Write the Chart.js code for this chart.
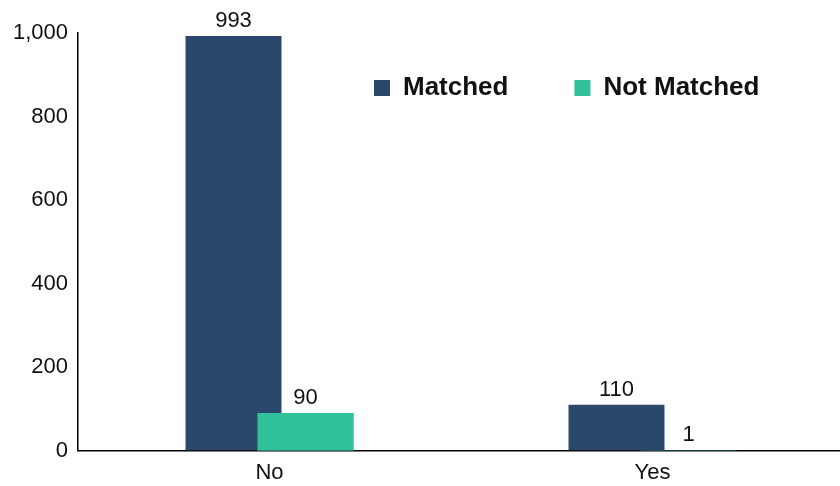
<!DOCTYPE html>
<html>
<head>
<meta charset="utf-8">
<script src="https://cdn.jsdelivr.net/npm/chart.js@4"></script>
<style>
  html, body { margin: 0; padding: 0; background: #fff; }
  #wrap { width: 840px; height: 486px; }
</style>
</head>
<body>
<div id="wrap"><canvas id="matchChart"></canvas></div>
<script>
// Chart data
const categories = ['No', 'Yes'];
const matchedValues = [993, 110];
const notMatchedValues = [90, 1];
const yTicks = [0, 200, 400, 600, 800, 1000];

const FONT = '"Liberation Sans", Arial, sans-serif';

// Writes the value above each bar and puts the Not Matched bars on top of the Matched ones.
const valueLabels = {
    id: 'valueLabels',
    afterDatasetsDraw(chart) {
        chart.getDatasetMeta(1).controller.draw();
        const ctx = chart.ctx;
        ctx.save();
        ctx.font = '22px ' + FONT;
        ctx.fillStyle = '#111';
        ctx.textAlign = 'center';
        ctx.textBaseline = 'alphabetic';
        chart.data.datasets.forEach((ds, i) => {
            chart.getDatasetMeta(i).data.forEach((bar, j) => {
                ctx.fillText(ds.data[j].toLocaleString('en-US'), bar.x, bar.y - 9);
            });
        });
        ctx.restore();
    }
};

// Lets the x axis run slightly past the canvas edge and lays the in-plot legend
// out as a single row where it sits in the reference.
const layoutTweaks = {
    id: 'layoutTweaks',
    beforeLayout(chart) {
        // chartArea legends are laid out as a column by default
        chart.legend.isHorizontal = () => true;
    },
    afterLayout(chart) {
        const x = chart.scales.x;
        x.right = chart.width + 4;
        x.width = x.right - x.left;
        x.configure();

        const legend = chart.legend;
        const pad = legend.options.labels.padding;
        legend.left = 374 - pad;
        legend.top = 75 - pad;
        legend.right = chart.width;
        legend.bottom = chart.chartArea.bottom;
        legend.width = legend.right - legend.left;
    }
};

document.addEventListener('DOMContentLoaded', () => {
    const ctx = document.getElementById('matchChart').getContext('2d');

    window.matchChart = new Chart(ctx, {
        type: 'bar',
        data: {
            labels: categories,
            datasets: [{
                label: 'Matched',
                data: matchedValues,
                backgroundColor: '#29486C',
                borderWidth: 0
            }, {
                label: 'Not Matched',
                data: notMatchedValues,
                backgroundColor: '#31C29C',
                borderWidth: 0
            }]
        },
        options: {
            responsive: true,
            maintainAspectRatio: false,
            animation: false,
            categoryPercentage: 0.376,
            barPercentage: 1.333,
            layout: {
                padding: { top: 33, bottom: -9, left: 0, right: 0 }
            },
            scales: {
                x: {
                    grid: { display: false, drawTicks: false },
                    border: { display: true, color: '#000', width: 1.5 },
                    ticks: {
                        color: '#111',
                        padding: 9,
                        font: { family: FONT, size: 22 }
                    }
                },
                y: {
                    min: yTicks[0],
                    max: yTicks[yTicks.length - 1],
                    afterFit: (scale) => { scale.width = 78; },
                    grid: { display: false, drawTicks: false },
                    border: { display: true, color: '#000', width: 1.5 },
                    ticks: {
                        stepSize: yTicks[1] - yTicks[0],
                        color: '#111',
                        padding: 10,
                        font: { family: FONT, size: 22 }
                    }
                }
            },
            plugins: {
                legend: {
                    position: 'chartArea',
                    align: 'start',
                    labels: {
                        boxWidth: 16,
                        boxHeight: 16,
                        padding: 66,
                        color: '#111',
                        font: { family: FONT, size: 26, weight: 'bold' }
                    }
                },
                tooltip: { enabled: false }
            }
        },
        plugins: [valueLabels, layoutTweaks]
    });
});
</script>
</body>
</html>
